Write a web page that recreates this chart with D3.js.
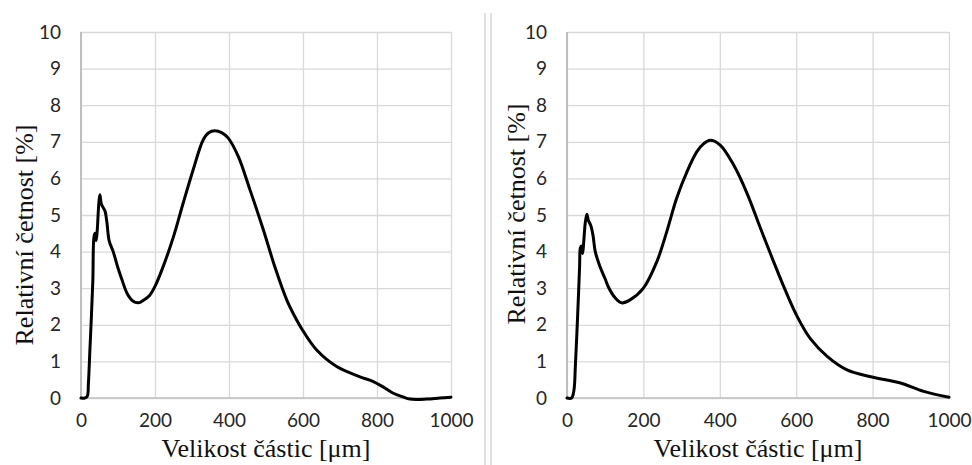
<!DOCTYPE html>
<html>
<head>
<meta charset="utf-8">
<script src="https://cdn.jsdelivr.net/npm/d3@7"></script>
<style>
  html, body { margin: 0; padding: 0; background: #ffffff; }
  svg { display: block; }
</style>
</head>
<body>
<svg id="chart" width="972" height="465"></svg>
<script>
// Particle size distributions: size [µm] against relative frequency [%]
const sizesA = [0, 10, 17, 20, 24, 28, 32, 35, 38, 41, 44, 48, 51, 55, 60, 65, 70, 76, 87, 100, 110, 125, 140, 155, 170, 186, 200, 222, 250, 276, 303, 330, 345, 362, 380, 398, 425, 457, 493, 525, 556, 575, 596, 637, 691, 754, 790, 820, 844, 870, 889, 934, 970, 1000];
const valuesA = [0, 0, 0.05, 0.4, 1.3, 2.2, 3.2, 4.4, 4.5, 4.3, 4.6, 5.3, 5.55, 5.3, 5.2, 5.1, 4.8, 4.3, 4.0, 3.55, 3.25, 2.85, 2.65, 2.6, 2.68, 2.81, 3.05, 3.59, 4.41, 5.32, 6.23, 7.05, 7.25, 7.3, 7.25, 7.1, 6.6, 5.68, 4.59, 3.55, 2.68, 2.28, 1.9, 1.31, 0.86, 0.58, 0.45, 0.28, 0.13, 0.03, -0.03, -0.03, 0, 0.02];

const sizesB = [0, 12, 18, 22, 26, 30, 33, 35, 38, 41, 44, 48, 52, 56, 62, 68, 74, 86, 100, 108, 125, 143, 165, 200, 235, 261, 287, 314, 340, 358, 375, 401, 436, 471, 506, 541, 570, 600, 637, 681, 733, 795, 873, 934, 1000];
const valuesB = [0, 0, 0.2, 0.9, 1.8, 2.8, 3.6, 4.1, 4.15, 3.95, 4.3, 4.8, 5.02, 4.85, 4.72, 4.45, 4.0, 3.6, 3.25, 3.04, 2.75, 2.6, 2.68, 3.0, 3.72, 4.54, 5.46, 6.18, 6.73, 6.95, 7.04, 6.91, 6.37, 5.6, 4.65, 3.72, 2.98, 2.28, 1.62, 1.14, 0.77, 0.58, 0.41, 0.18, 0.02];

const xTicks = [0, 200, 400, 600, 800, 1000];
const yTicks = [0, 1, 2, 3, 4, 5, 6, 7, 8, 9, 10];
const xTitle = "Velikost částic [μm]";
const yTitle = "Relativní četnost [%]";

const svg = d3.select("#chart");
const tickFont = "Lato, 'Open Sans', sans-serif";
const titleFont = "'Liberation Serif', 'Times New Roman', serif";
const tickSize = 19;
const titleSize = 26;

// Left and right panels with their plot rectangles
const panels = [
  { sizes: sizesA, values: valuesA, left: 81, right: 451, top: 32, bottom: 398, yTitleX: 33, yTitleY: 235 },
  { sizes: sizesB, values: valuesB, left: 567, right: 949, top: 32, bottom: 398, yTitleX: 525, yTitleY: 214 }
];

panels.forEach(p => {
  const x = d3.scaleLinear().domain([0, 1000]).range([p.left, p.right]);
  const y = d3.scaleLinear().domain([0, 10]).range([p.bottom, p.top]);
  const g = svg.append("g");

  // Horizontal gridlines
  g.append("g").call(d3.axisLeft(y).tickValues(yTicks).tickSize(-(p.right - p.left)).tickFormat(""))
    .attr("transform", `translate(${p.left},0)`)
    .call(s => s.select(".domain").remove())
    .call(s => s.selectAll("line").attr("stroke", "#d9d9d9").attr("stroke-width", 1.3));

  // Vertical gridlines
  g.append("g").call(d3.axisBottom(x).tickValues(xTicks).tickSize(-(p.bottom - p.top)).tickFormat(""))
    .attr("transform", `translate(0,${p.bottom})`)
    .call(s => s.select(".domain").remove())
    .call(s => s.selectAll("line").attr("stroke", "#d9d9d9").attr("stroke-width", 1.3));

  // Axis lines
  g.append("line").attr("x1", p.left).attr("x2", p.left).attr("y1", p.top).attr("y2", p.bottom)
    .attr("stroke", "#bfbfbf").attr("stroke-width", 2);
  g.append("line").attr("x1", p.left).attr("x2", p.right).attr("y1", p.bottom).attr("y2", p.bottom)
    .attr("stroke", "#bfbfbf").attr("stroke-width", 1.5);

  // Tick labels
  const yAxis = g.append("g").attr("transform", `translate(${p.left},0)`)
    .call(d3.axisLeft(y).tickValues(yTicks).tickFormat(d3.format("d")).tickSize(0).tickPadding(20));
  yAxis.select(".domain").remove();
  yAxis.selectAll("text").attr("font-family", tickFont).attr("font-size", tickSize).attr("fill", "#262626");

  const xAxis = g.append("g").attr("transform", `translate(0,${p.bottom})`)
    .call(d3.axisBottom(x).tickValues(xTicks).tickFormat(d3.format("d")).tickSize(0).tickPadding(16));
  xAxis.select(".domain").remove();
  xAxis.selectAll("text").attr("font-family", tickFont).attr("font-size", tickSize).attr("fill", "#262626");

  // Distribution curve
  const line = d3.line()
    .x((d, i) => x(p.sizes[i]))
    .y(d => y(d))
    .curve(d3.curveCatmullRom.alpha(0.5));
  g.append("path").datum(p.values).attr("d", line)
    .attr("fill", "none").attr("stroke", "#000").attr("stroke-width", 3)
    .attr("stroke-linejoin", "round").attr("stroke-linecap", "round");

  // Axis titles
  g.append("text").attr("x", (p.left + p.right) / 2).attr("y", 457)
    .attr("text-anchor", "middle").attr("font-family", titleFont).attr("font-size", titleSize)
    .attr("fill", "#111").text(xTitle);
  g.append("text").attr("transform", `translate(${p.yTitleX},${p.yTitleY}) rotate(-90)`)
    .attr("text-anchor", "middle").attr("font-family", titleFont).attr("font-size", titleSize)
    .attr("fill", "#111").text(yTitle);
});

// Separator between the two panels
[485, 491].forEach(xx => {
  svg.append("line").attr("x1", xx).attr("x2", xx).attr("y1", 13).attr("y2", 465)
    .attr("stroke", "#d6d6d6").attr("stroke-width", 1.5);
});
</script>
</body>
</html>
